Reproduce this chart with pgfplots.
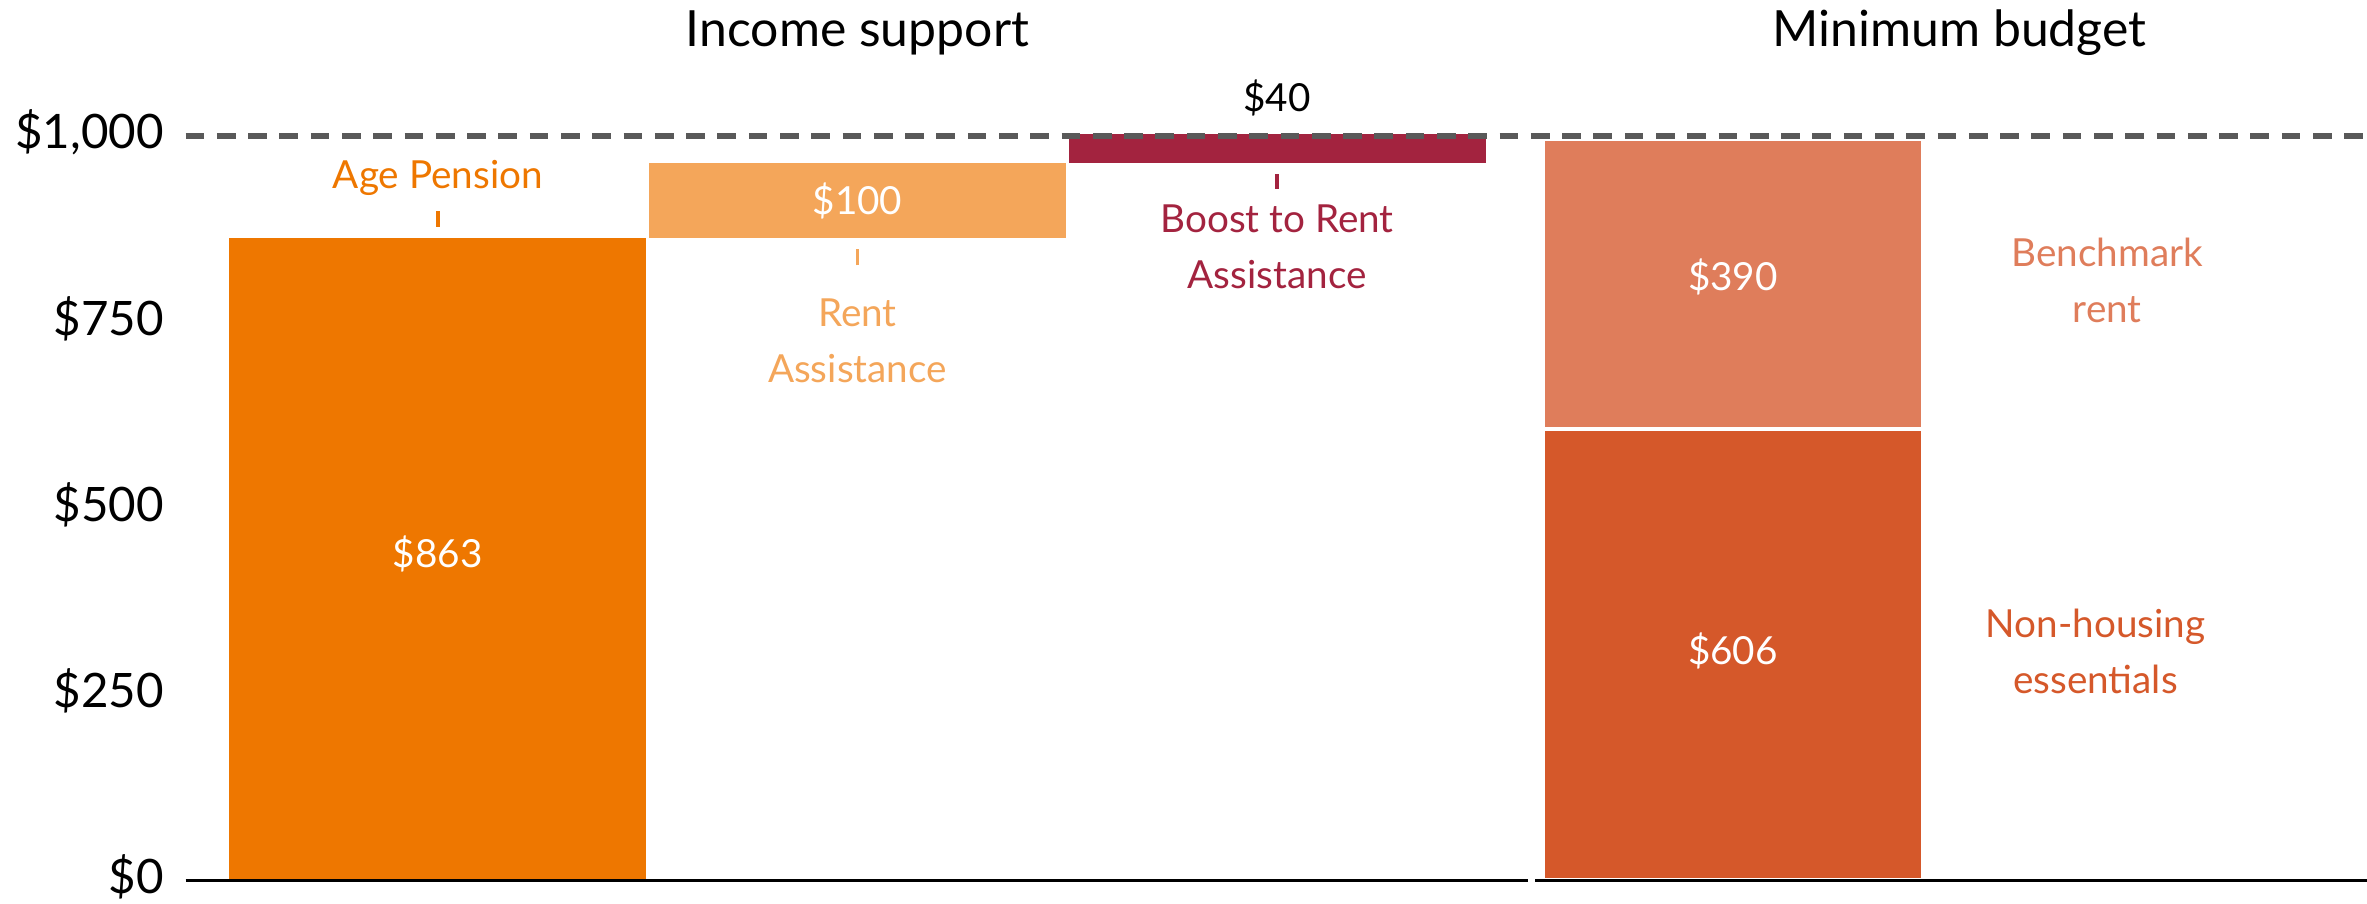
\documentclass[border=0pt]{standalone}
\usepackage{pgfplots}
\pgfplotsset{compat=1.18}
\usepackage{fontspec}
\setmainfont{Lato}

\definecolor{agepen}{HTML}{EE7700}
\definecolor{rentas}{HTML}{F4A65A}
\definecolor{boost}{HTML}{A3233F}
\definecolor{bench}{HTML}{DF7D5B}
\definecolor{nonhouse}{HTML}{D5582A}
\definecolor{dashgray}{HTML}{595959}

\newcommand{\lbl}{\fontsize{11}{16}\selectfont}

\begin{document}
\begin{tikzpicture}
\begin{axis}[
    width=21.81cm, height=8.80cm, scale only axis,
    xmin=-0.601, xmax=4.597,
    ymin=0, ymax=1182.6,
    axis line style={draw=none},
    ybar stacked,
    xtick=\empty,
    ytick={0,250,500,750,1000},
    yticklabels={\$0,\$250,\$500,\$750,{\$1,000}},
    major tick length=0pt,
    yticklabel style={font=\fontsize{13.5}{16}\selectfont, anchor=east, inner sep=0pt, xshift=-6pt, yshift=1pt},
    clip=false,
]
% invisible base of the waterfall
\addplot[fill=none, draw=none, bar width=0.993] coordinates {(0,0) (1,863) (2,963) (3.086,0)};
\addplot[fill=agepen, draw=none, bar width=0.993] coordinates {(0,863) (1,0) (2,0) (3.086,0)};
\addplot[fill=rentas, draw=none, bar width=0.993] coordinates {(0,0) (1,100) (2,0) (3.086,0)};
\addplot[fill=boost, draw=none, bar width=0.993] coordinates {(0,0) (1,0) (2,40) (3.086,0)};
% minimum budget
\addplot[fill=nonhouse, draw=white, line width=1pt, bar width=0.903] coordinates {(0,0) (1,0) (2,0) (3.086,606)};
\addplot[fill=bench, draw=white, line width=1pt, bar width=0.903] coordinates {(0,0) (1,0) (2,0) (3.086,390)};

% anchor points for the annotations, drawn after the axis
\coordinate (dashL) at (axis cs:-0.601,1000);
\coordinate (dashR) at (axis cs:4.597,1000);
\coordinate (baseA) at (axis cs:-0.601,0);
\coordinate (baseB) at (axis cs:2.597,0);
\coordinate (baseC) at (axis cs:2.615,0);
\coordinate (baseD) at (axis cs:4.597,0);
\coordinate (tIncome) at (axis cs:1,1138);
\coordinate (tBudget) at (axis cs:3.626,1138);
\coordinate (lAge) at (axis cs:0,943);
\coordinate (kAge1) at (axis cs:0,878);
\coordinate (kAge2) at (axis cs:0,899);
\coordinate (lRent) at (axis cs:1,725);
\coordinate (kRent1) at (axis cs:1,826);
\coordinate (kRent2) at (axis cs:1,848);
\coordinate (lBoost) at (axis cs:2,851);
\coordinate (kBoost1) at (axis cs:2,929);
\coordinate (kBoost2) at (axis cs:2,949);
\coordinate (lBench) at (axis cs:3.978,806);
\coordinate (lNon) at (axis cs:3.95,307);
\coordinate (v40) at (axis cs:2,1051);
\coordinate (v863) at (axis cs:0,438);
\coordinate (v100) at (axis cs:1,913);
\coordinate (v390) at (axis cs:3.086,811);
\coordinate (v606) at (axis cs:3.086,308);
\coordinate (bl) at (rel axis cs:-0.0851,-0.026);
\coordinate (tr) at (rel axis cs:1,1);
\end{axis}

\draw[dashgray, line width=1.5pt, dash pattern=on 5.3pt off 3.6pt] (dashL) -- (dashR);
\draw[black, line width=0.9pt] (baseA) -- (baseB);
\draw[black, line width=0.9pt] (baseC) -- (baseD);

\node[font=\fontsize{14.2}{17}\selectfont] at (tIncome) {Income support};
\node[font=\fontsize{14.2}{17}\selectfont] at (tBudget) {Minimum budget};

\node[font=\lbl, text=agepen] at (lAge) {Age Pension};
\draw[agepen, line width=1pt] (kAge1) -- (kAge2);
\node[font=\lbl, text=rentas, align=center] at (lRent) {Rent\\Assistance};
\draw[rentas, line width=1pt] (kRent1) -- (kRent2);
\node[font=\lbl, text=boost, align=center] at (lBoost) {Boost to Rent\\Assistance};
\draw[boost, line width=1pt] (kBoost1) -- (kBoost2);
\node[font=\lbl, text=bench, align=center] at (lBench) {Benchmark\\rent};
\node[font=\lbl, text=nonhouse, align=center] at (lNon) {Non-housing\\essentials};

\node[font=\lbl] at (v40) {\$40};
\node[font=\lbl, text=white] at (v863) {\$863};
\node[font=\lbl, text=white] at (v100) {\$100};
\node[font=\lbl, text=white] at (v390) {\$390};
\node[font=\lbl, text=white] at (v606) {\$606};

\pgfresetboundingbox
\path[use as bounding box] (bl) rectangle (tr);
\end{tikzpicture}
\end{document}
